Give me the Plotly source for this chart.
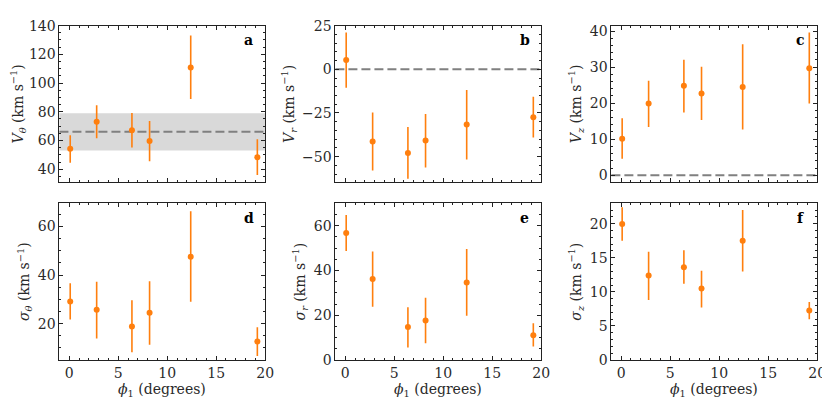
import plotly.graph_objects as go

# ---- data ----
phi1 = [0.1, 2.8, 6.4, 8.2, 12.4, 19.2]

v_theta = [54.2, 73.1, 67.1, 59.7, 110.9, 48.4]
v_theta_up = [9.5, 11.4, 12.0, 13.8, 22.2, 12.5]
v_theta_lo = [9.8, 11.6, 12.0, 14.2, 22.0, 12.4]
v_theta_band = [53.1, 78.9]
v_theta_mean = 66.0

v_r = [5.3, -41.4, -48.0, -40.8, -31.6, -27.5]
v_r_up = [15.8, 16.7, 15.0, 15.2, 19.7, 11.7]
v_r_lo = [15.9, 16.6, 14.7, 15.4, 20.0, 11.6]

v_z = [10.1, 19.9, 24.8, 22.7, 24.5, 29.7]
v_z_up = [5.7, 6.3, 7.2, 7.4, 11.8, 9.9]
v_z_lo = [5.5, 6.5, 7.4, 7.4, 11.8, 9.8]

s_theta = [29.1, 25.7, 18.8, 24.5, 47.6, 12.6]
s_theta_up = [7.5, 11.6, 10.8, 13.0, 18.7, 5.9]
s_theta_lo = [7.4, 11.8, 10.6, 13.2, 18.6, 5.9]

s_r = [56.7, 36.2, 14.7, 17.7, 34.6, 11.1]
s_r_up = [8.1, 12.3, 8.9, 10.1, 15.0, 5.3]
s_r_lo = [8.0, 12.4, 9.1, 10.2, 14.8, 5.1]

s_z = [19.95, 12.4, 13.6, 10.5, 17.5, 7.25]
s_z_up = [2.45, 3.5, 2.5, 2.6, 4.5, 1.25]
s_z_lo = [2.45, 3.6, 2.4, 2.8, 4.5, 1.25]

panel_letters = ["a", "b", "c", "d", "e", "f"]
y_titles = [
    "<i>V</i><sub><i>θ</i></sub> (km s<sup>−1</sup>)",
    "<i>V</i><sub><i>r</i></sub> (km s<sup>−1</sup>)",
    "<i>V</i><sub><i>z</i></sub> (km s<sup>−1</sup>)",
    "<i>σ</i><sub><i>θ</i></sub> (km s<sup>−1</sup>)",
    "<i>σ</i><sub><i>r</i></sub> (km s<sup>−1</sup>)",
    "<i>σ</i><sub><i>z</i></sub> (km s<sup>−1</sup>)",
]
x_title = "<i>ϕ</i><sub>1</sub> (degrees)"
x_range = [-1, 20]
x_ticks = [0, 5, 10, 15, 20]

series = [
    (v_theta, v_theta_up, v_theta_lo),
    (v_r, v_r_up, v_r_lo),
    (v_z, v_z_up, v_z_lo),
    (s_theta, s_theta_up, s_theta_lo),
    (s_r, s_r_up, s_r_lo),
    (s_z, s_z_up, s_z_lo),
]
y_ranges = [[31, 140], [-64.6, 25], [-1.9, 41.5], [5, 69.6], [0, 70], [0, 23]]
y_major = [20, 25, 10, 20, 20, 5]
y_minor = [5, 5, 2, 5, 5, 1]

# ---- layout geometry ----
W, H = 830, 402
col_px = [(52, 260), (331, 539), (610, 818)]
row_px = [(10, 173), (195, 358.3)]

ORANGE = "#ff7f0e"
FONT = "DejaVu Serif"
FS = 14
TXT = "#2a2a2a"

fig = go.Figure()
layout = dict(
    width=W, height=H, margin=dict(l=0, r=0, t=0, b=0),
    paper_bgcolor="white", plot_bgcolor="white", showlegend=False,
    font=dict(family=FONT, size=FS, color=TXT),
)

for i in range(6):
    r, c = divmod(i, 3)
    n = i + 1
    xa = "x" if n == 1 else f"x{n}"
    ya = "y" if n == 1 else f"y{n}"
    xkey = "xaxis" if n == 1 else f"xaxis{n}"
    ykey = "yaxis" if n == 1 else f"yaxis{n}"
    x0, x1 = col_px[c]
    y0, y1 = row_px[r]
    yv, up, lo = series[i]
    fig.add_trace(go.Scatter(
        x=phi1, y=yv, mode="markers", xaxis=xa, yaxis=ya,
        marker=dict(color=ORANGE, size=6),
        error_y=dict(type="data", array=up, arrayminus=lo, color=ORANGE,
                     thickness=1.6, width=0),
    ))
    common = dict(
        showline=True, linecolor="#222", linewidth=1, mirror="allticks",
        ticks="inside", ticklen=4, tickwidth=1, tickcolor="#222",
        showgrid=False, zeroline=False,
        tickfont=dict(family=FONT, size=FS, color=TXT),
    )
    layout[xkey] = dict(
        common, domain=[x0 / W, x1 / W], anchor=ya, range=x_range,
        tickvals=x_ticks, showticklabels=(r == 1),
        minor=dict(ticks="inside", dtick=1, tick0=0, ticklen=2, tickcolor="#222", showgrid=False),
    )
    layout[ykey] = dict(
        common, domain=[1 - y1 / H, 1 - y0 / H], anchor=xa, range=y_ranges[i],
        dtick=y_major[i], tick0=0,
        minor=dict(ticks="inside", dtick=y_minor[i], tick0=0, ticklen=2, tickcolor="#222", showgrid=False),
        title=dict(text=y_titles[i], font=dict(family=FONT, size=FS, color=TXT), standoff=4),
    )
    fig.add_annotation(
        text=f"<b>{panel_letters[i]}</b>", xref=f"{xa} domain", yref=f"{ya} domain",
        x=0.92, y=0.905, showarrow=False, xanchor="center", yanchor="middle",
        font=dict(family=FONT, size=FS, color="black"),
    )
    if r == 1:
        fig.add_annotation(
            text=x_title, xref=f"{xa} domain", yref="paper",
            x=0.5, y=1 - 389 / H, showarrow=False, xanchor="center", yanchor="middle",
            font=dict(family=FONT, size=FS, color=TXT),
        )

# band and mean line in panel a
fig.add_shape(type="rect", xref="x domain", yref="y", x0=0, x1=1,
              y0=v_theta_band[0], y1=v_theta_band[1],
              fillcolor="#d9d9d9", line=dict(width=0), layer="below")
fig.add_shape(type="line", xref="x domain", yref="y", x0=0, x1=1,
              y0=v_theta_mean, y1=v_theta_mean,
              line=dict(color="#808080", width=2, dash="9px,4px"), layer="below")
# zero lines in panels b and c
for ax in ["2", "3"]:
    fig.add_shape(type="line", xref=f"x{ax} domain", yref=f"y{ax}", x0=0, x1=1,
                  y0=0, y1=0, line=dict(color="#808080", width=2, dash="9px,4px"),
                  layer="below")

fig.update_layout(**layout)
fig.write_html("out.html")
